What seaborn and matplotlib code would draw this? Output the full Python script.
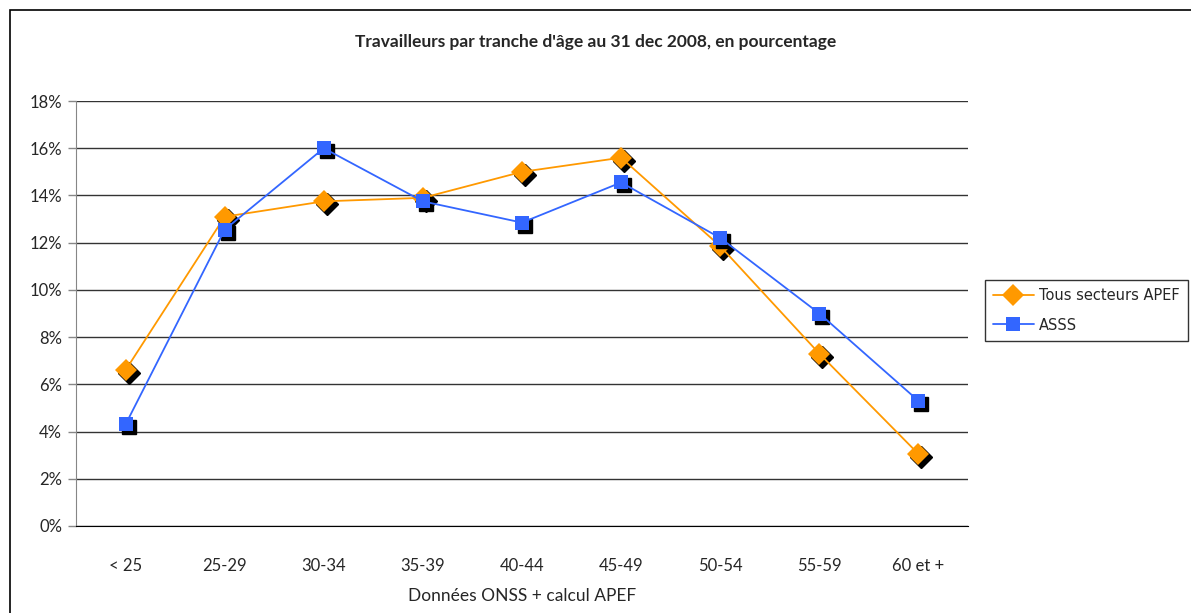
import matplotlib
matplotlib.use("Agg")
import matplotlib.pyplot as plt
import matplotlib.patches as mpatches
from matplotlib.transforms import offset_copy
import pandas as pd
import seaborn as sns

# data
tranches = ["< 25", "25-29", "30-34", "35-39", "40-44",
            "45-49", "50-54", "55-59", "60 et +"]
tous_secteurs = [6.6, 13.1, 13.75, 13.9, 15.0, 15.6, 11.85, 7.3, 3.05]
asss = [4.3, 12.55, 16.0, 13.75, 12.85, 14.55, 12.2, 9.0, 5.3]
y_ticks = [0, 2, 4, 6, 8, 10, 12, 14, 16, 18]

series_names = ["Tous secteurs APEF", "ASSS"]
colors = {"Tous secteurs APEF": "#FF9900", "ASSS": "#3366FF"}
markers = {"Tous secteurs APEF": "D", "ASSS": "s"}
sizes = {"Tous secteurs APEF": 11.5, "ASSS": 10}

df = pd.DataFrame({
    "tranche": tranches * 2,
    "pct": tous_secteurs + asss,
    "serie": [series_names[0]] * len(tranches) + [series_names[1]] * len(tranches),
})

sns.set_style("white")
plt.rcParams["font.family"] = ["Lato", "DejaVu Sans"]

fig = plt.figure(figsize=(11.91, 6.13), dpi=100)
ax = fig.add_axes([76 / 1191, 1 - 526 / 613, 892 / 1191, 425 / 613])

# outer chart frame
fig.patches.append(mpatches.Rectangle(
    (10 / 1191, -0.05), 1.2, 1 - 10 / 613 + 0.05,
    transform=fig.transFigure, fill=False, edgecolor="black", lw=1.2))

shadow = offset_copy(ax.transData, fig=fig, x=3, y=-3, units="dots")
for i, name in enumerate(series_names):
    sub = df[df["serie"] == name]
    xs = list(range(len(tranches)))
    ax.plot(xs, sub["pct"].values, linestyle="none", marker=markers[name],
            markersize=sizes[name], color="black", transform=shadow,
            zorder=3 + 2 * i)
    sns.lineplot(data=sub, x="tranche", y="pct", ax=ax, color=colors[name],
                 marker=markers[name], markersize=sizes[name],
                 markeredgewidth=0, linewidth=1.3, label=name,
                 zorder=4 + 2 * i, sort=False)

ax.set_xlim(-0.5, len(tranches) - 0.5)
ax.set_ylim(0, 18)
ax.set_yticks(y_ticks)
ax.set_yticklabels([f"{v}%" for v in y_ticks])
ax.set_xticks(range(len(tranches)))
ax.set_xticklabels(tranches)
ax.set_xticks([i - 0.5 for i in range(len(tranches) + 1)], minor=True)
ax.tick_params(axis="x", which="major", length=0, pad=23, labelsize=12)
ax.tick_params(axis="x", which="minor", length=6, direction="out",
               color="black", width=1)
ax.tick_params(axis="y", length=6, direction="out", color="#868686",
               width=1, pad=4, labelsize=12, left=True)

ax.yaxis.grid(True, color="#333333", linewidth=1)
ax.set_axisbelow(True)
for side in ["top", "right"]:
    ax.spines[side].set_visible(False)
ax.spines["left"].set_color("#868686")
ax.spines["bottom"].set_color("black")
ax.spines["bottom"].set_zorder(2.5)

ax.set_xlabel("Données ONSS + calcul APEF", fontsize=12.5, labelpad=10)
ax.set_ylabel("")
fig.text(596 / 1191, 1 - 42 / 613,
         "Travailleurs par tranche d'âge au 31 dec 2008, en pourcentage",
         ha="center", va="center", fontsize=12.5, fontweight="bold")

leg = ax.legend(loc="upper left", bbox_to_anchor=(985 / 1191, 1 - 280 / 613),
                bbox_transform=fig.transFigure, frameon=True, fancybox=False,
                edgecolor="black", borderaxespad=0, handlelength=2.8,
                handletextpad=0.35, borderpad=0.55, labelspacing=1.0,
                prop={"family": "DejaVu Sans", "size": 10.5})
leg.get_frame().set_linewidth(1)

fig.savefig("out.png", dpi=100)
